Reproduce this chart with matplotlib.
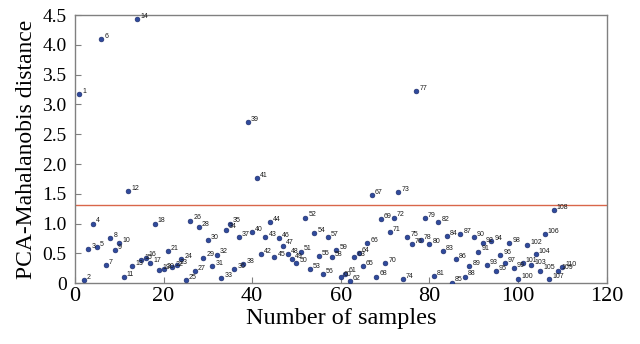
import numpy as np
import matplotlib.pyplot as plt

# PCA-Mahalanobis distance of each sample
samples = np.arange(1, 111)
distance = [
    3.17, 0.05, 0.57, 1.00, 0.60, 4.10, 0.30, 0.76, 0.55, 0.67,
    0.10, 1.54, 0.28, 4.43, 0.39, 0.43, 0.34, 1.00, 0.22, 0.23,
    0.54, 0.27, 0.30, 0.40, 0.05, 1.05, 0.20, 0.94, 0.43, 0.72,
    0.28, 0.48, 0.09, 0.90, 1.00, 0.23, 0.78, 0.32, 2.70, 0.86,
    1.76, 0.49, 0.78, 1.02, 0.44, 0.75, 0.63, 0.49, 0.41, 0.34,
    0.53, 1.10, 0.23, 0.84, 0.45, 0.15, 0.77, 0.44, 0.55, 0.10,
    0.16, 0.04, 0.44, 0.51, 0.29, 0.68, 1.48, 0.11, 1.08, 0.33,
    0.86, 1.10, 1.53, 0.07, 0.77, 0.65, 3.22, 0.73, 1.09, 0.65,
    0.12, 1.03, 0.54, 0.79, 0.01, 0.40, 0.82, 0.11, 0.29, 0.77,
    0.53, 0.68, 0.30, 0.70, 0.20, 0.47, 0.33, 0.68, 0.25, 0.07,
    0.34, 0.64, 0.30, 0.49, 0.21, 0.83, 0.07, 1.22, 0.21, 0.27,
]
threshold = 1.31

fig = plt.figure(figsize=(6.4, 3.44), dpi=100)
ax = fig.add_axes([0.117, 0.177, 0.831, 0.779])

ax.scatter(samples, distance, s=12, color='#2f4a9c', edgecolors='#1b2a66',
           linewidths=0.4, zorder=3)
for x, y in zip(samples, distance):
    ax.annotate(str(x), (x, y), xytext=(2.2, 0.8), textcoords='offset points',
                fontsize=5, family='Liberation Sans', color='#1a1a1a', zorder=4)

ax.axhline(threshold, color='#d9664a', lw=1.0, zorder=2)

ax.set_xlim(0, 120)
ax.set_ylim(0, 4.5)
ax.set_xticks(np.arange(0, 121, 20))
ax.set_yticks(np.arange(0, 4.51, 0.5))
ax.set_yticklabels(['0'] + [f'{v:.1f}' for v in np.arange(0.5, 4.51, 0.5)])

for lab in ax.get_xticklabels():
    lab.set_fontsize(16)
    lab.set_family('Liberation Serif')
for lab in ax.get_yticklabels():
    lab.set_fontsize(14)
    lab.set_family('Liberation Serif')

ax.tick_params(direction='in', length=4, width=0.8, color='#808080')
ax.tick_params(axis='x', pad=3)
ax.tick_params(axis='y', pad=6)
for sp in ax.spines.values():
    sp.set_color('#808080')
    sp.set_linewidth(1.0)

ax.set_xlabel('Number of samples', fontsize=17.5, family='Liberation Serif', labelpad=1)
ax.set_ylabel('PCA-Mahalanobis distance', fontsize=17, family='Liberation Serif', labelpad=4)

fig.savefig('out.png', dpi=100)
